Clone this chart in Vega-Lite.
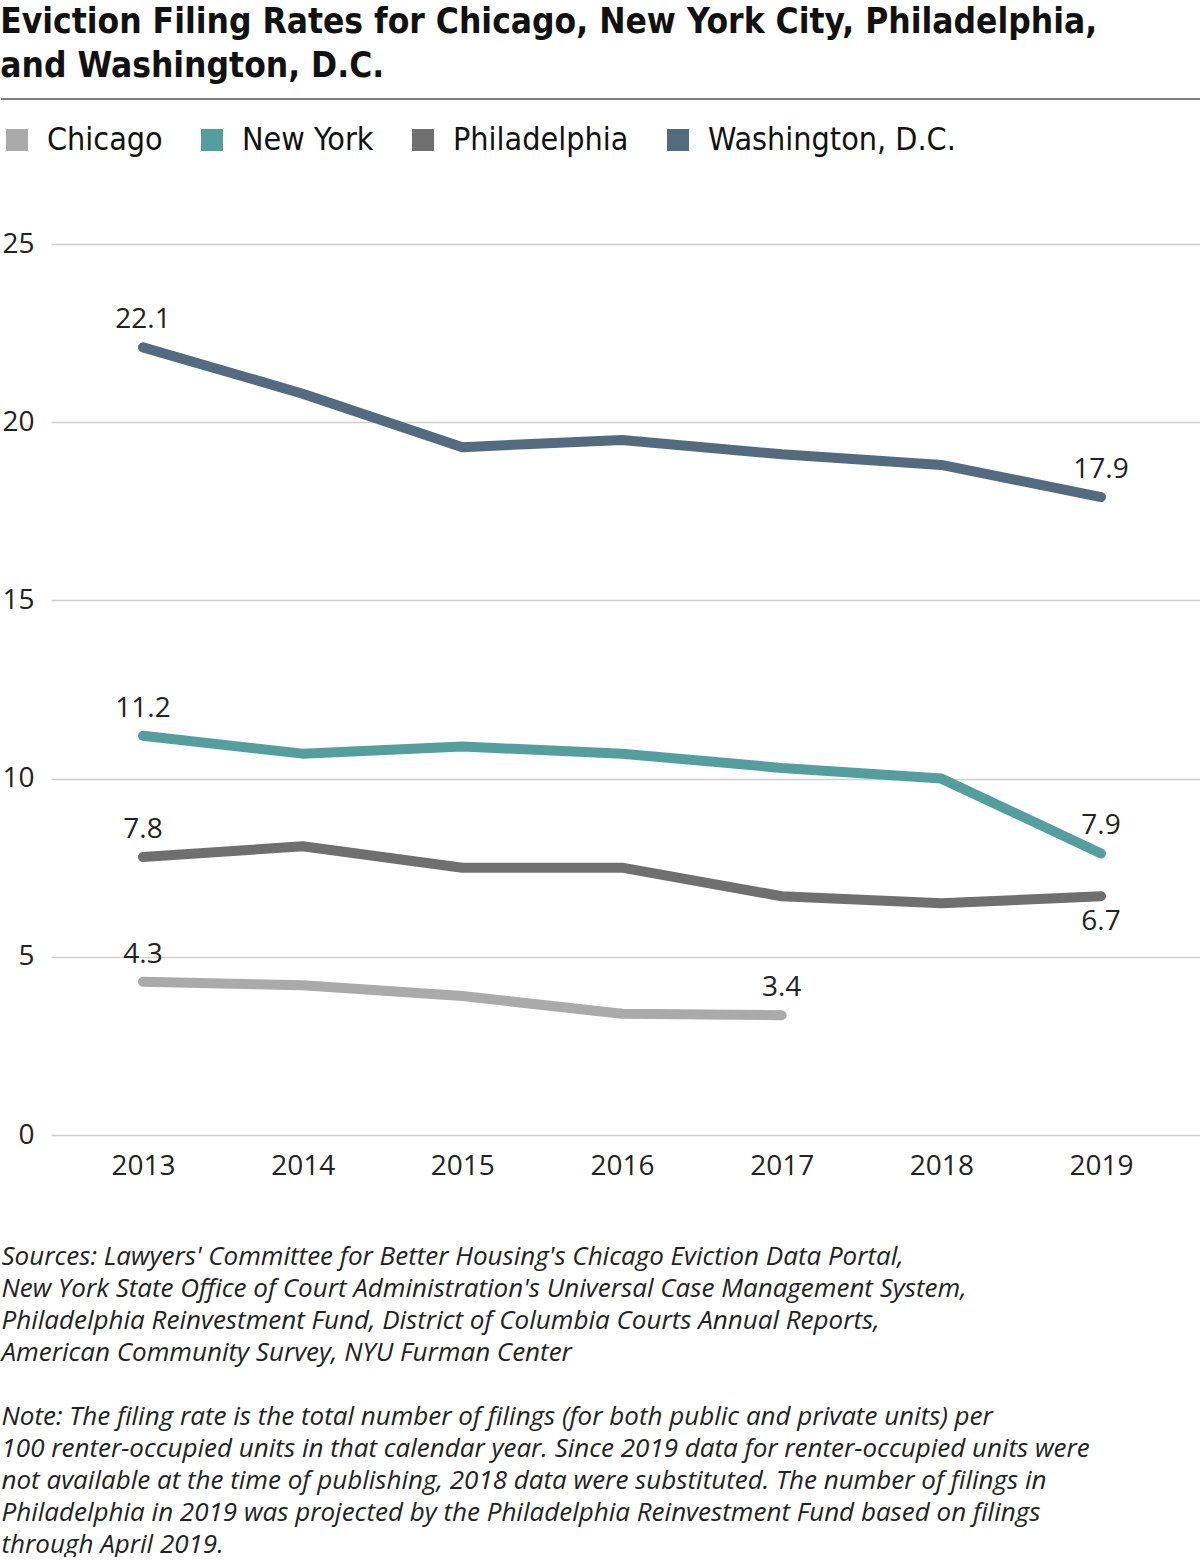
{
  "$schema": "https://vega.github.io/schema/vega-lite/v6.json",
  "width": 1150,
  "height": 891,
  "padding": {"top": 5, "left": 0, "right": 0, "bottom": 0},
  "autosize": {"type": "pad"},
  "background": "white",
  "title": {
    "text": ["Eviction Filing Rates for Chicago, New York City, Philadelphia,", "and Washington, D.C."],
    "anchor": "start",
    "frame": "bounds",
    "font": "DejaVu Sans Condensed, Roboto",
    "fontWeight": "bold",
    "fontSize": 35,
    "lineHeight": 44,
    "color": "#111",
    "offset": 14
  },
  "datasets": {
    "rates": [
      {"city": "Chicago", "year": 2013, "rate": 4.3},
      {"city": "Chicago", "year": 2014, "rate": 4.2},
      {"city": "Chicago", "year": 2015, "rate": 3.9},
      {"city": "Chicago", "year": 2016, "rate": 3.4},
      {"city": "Chicago", "year": 2017, "rate": 3.36},
      {"city": "New York", "year": 2013, "rate": 11.2},
      {"city": "New York", "year": 2014, "rate": 10.7},
      {"city": "New York", "year": 2015, "rate": 10.9},
      {"city": "New York", "year": 2016, "rate": 10.7},
      {"city": "New York", "year": 2017, "rate": 10.3},
      {"city": "New York", "year": 2018, "rate": 10.0},
      {"city": "New York", "year": 2019, "rate": 7.9},
      {"city": "Philadelphia", "year": 2013, "rate": 7.8},
      {"city": "Philadelphia", "year": 2014, "rate": 8.1},
      {"city": "Philadelphia", "year": 2015, "rate": 7.5},
      {"city": "Philadelphia", "year": 2016, "rate": 7.5},
      {"city": "Philadelphia", "year": 2017, "rate": 6.7},
      {"city": "Philadelphia", "year": 2018, "rate": 6.5},
      {"city": "Philadelphia", "year": 2019, "rate": 6.7},
      {"city": "Washington, D.C.", "year": 2013, "rate": 22.1},
      {"city": "Washington, D.C.", "year": 2014, "rate": 20.8},
      {"city": "Washington, D.C.", "year": 2015, "rate": 19.3},
      {"city": "Washington, D.C.", "year": 2016, "rate": 19.5},
      {"city": "Washington, D.C.", "year": 2017, "rate": 19.1},
      {"city": "Washington, D.C.", "year": 2018, "rate": 18.8},
      {"city": "Washington, D.C.", "year": 2019, "rate": 17.9}
    ]
  },
  "layer": [
    {
      "data": {"values": [{}]},
      "mark": {"type": "rule", "color": "#555", "strokeWidth": 1.5, "clip": false},
      "encoding": {
        "x": {"datum": 2012.111, "type": "quantitative"},
        "x2": {"datum": 2019.626},
        "y": {"datum": 29.07, "type": "quantitative"}
      }
    },
    {
      "data": {"name": "rates"},
      "mark": {"type": "line", "strokeWidth": 10, "strokeCap": "round", "strokeJoin": "round"},
      "encoding": {
        "x": {
          "field": "year",
          "type": "quantitative",
          "scale": {"domain": [2012.424, 2019.626], "nice": false, "zero": false},
          "axis": {
            "values": [2013, 2014, 2015, 2016, 2017, 2018, 2019],
            "format": "d",
            "grid": false,
            "domain": false,
            "ticks": false,
            "labelFont": "Open Sans",
            "labelFontSize": 28,
            "labelColor": "#222",
            "labelPadding": 17,
            "title": [
              "Sources: Lawyers' Committee for Better Housing's Chicago Eviction Data Portal,",
              "New York State Office of Court Administration's Universal Case Management System,",
              "Philadelphia Reinvestment Fund, District of Columbia Courts Annual Reports,",
              "American Community Survey, NYU Furman Center",
              "\u200b",
              "Note: The filing rate is the total number of filings (for both public and private units) per",
              "100 renter-occupied units in that calendar year. Since 2019 data for renter-occupied units were",
              "not available at the time of publishing, 2018 data were substituted. The number of filings in",
              "Philadelphia in 2019 was projected by the Philadelphia Reinvestment Fund based on filings",
              "through April 2019."
            ],
            "titleFont": "Open Sans",
            "titleFontStyle": "italic",
            "titleFontWeight": "normal",
            "titleFontSize": 26,
            "titleLineHeight": 32,
            "titleColor": "#222",
            "titleAlign": "left",
            "titleBaseline": "top",
            "titleX": -50,
            "titleY": 108
          }
        },
        "y": {
          "field": "rate",
          "type": "quantitative",
          "scale": {"domain": [0, 25], "nice": false},
          "axis": {
            "values": [0, 5, 10, 15, 20, 25],
            "title": null,
            "grid": true,
            "domain": false,
            "ticks": false,
            "gridColor": "#d0d0d0",
            "gridWidth": 1.5,
            "labelFont": "Open Sans",
            "labelFontSize": 28,
            "labelColor": "#222",
            "labelPadding": 17
          }
        },
        "color": {
          "field": "city",
          "type": "nominal",
          "scale": {
            "domain": ["Chicago", "New York", "Philadelphia", "Washington, D.C."],
            "range": ["#aaaaaa", "#559e9e", "#6f6f6f", "#546a7e"]
          },
          "legend": {
            "title": null,
            "orient": "none",
            "direction": "horizontal",
            "columns": 4,
            "legendX": -50,
            "legendY": -120,
            "padding": 0,
            "symbolType": "square",
            "symbolSize": 484,
            "symbolOpacity": 1,
            "labelFont": "DejaVu Sans Condensed, Roboto",
            "labelFontSize": 32,
            "labelColor": "#111",
            "labelOffset": 14,
            "columnPadding": 33,
            "labelLimit": 400,
            "encode": {
              "symbols": {
                "update": {
                  "fill": {"scale": "color", "field": "value"},
                  "strokeWidth": {"value": 0}
                }
              }
            }
          }
        }
      }
    },
    {
      "data": {"name": "rates"},
      "transform": [
        {"joinaggregate": [{"op": "min", "field": "year", "as": "first"}, {"op": "max", "field": "year", "as": "last"}], "groupby": ["city"]},
        {"filter": "(datum.year == datum.first || datum.year == datum.last) && !(datum.city == 'Philadelphia' && datum.year == datum.last)"}
      ],
      "mark": {"type": "text", "font": "Open Sans", "fontSize": 28, "color": "#222", "dy": -27},
      "encoding": {
        "x": {"field": "year", "type": "quantitative"},
        "y": {"field": "rate", "type": "quantitative"},
        "text": {"field": "rate", "type": "quantitative", "format": ".1f"}
      }
    },
    {
      "data": {"name": "rates"},
      "transform": [
        {"filter": "datum.city == 'Philadelphia' && datum.year == 2019"}
      ],
      "mark": {"type": "text", "font": "Open Sans", "fontSize": 28, "color": "#222", "dy": 26},
      "encoding": {
        "x": {"field": "year", "type": "quantitative"},
        "y": {"field": "rate", "type": "quantitative"},
        "text": {"field": "rate", "type": "quantitative", "format": ".1f"}
      }
    }
  ],
  "config": {
    "view": {"stroke": null}
  }
}
